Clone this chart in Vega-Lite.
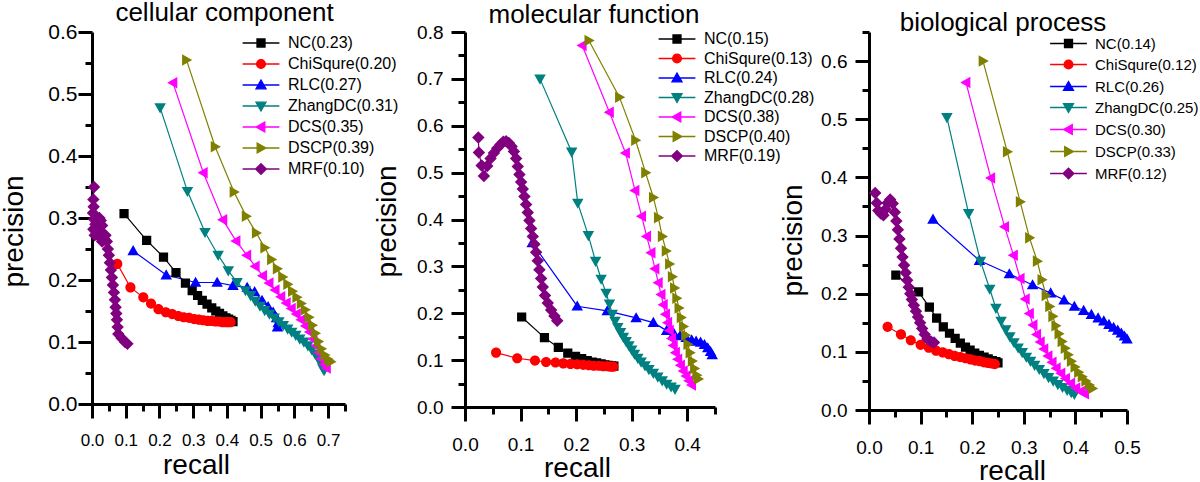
{
"$schema": "https://vega.github.io/schema/vega-lite/v6.json",
"padding": {"left": 0, "top": 0, "right": 0, "bottom": 0},
"config": {
  "font": "Liberation Sans",
  "view": {"stroke": null},
  "axis": {"labelColor": "black", "titleColor": "black", "grid": false, "labelFont": "Liberation Sans", "titleFont": "Liberation Sans", "titleFontWeight": "normal", "labelOverlap": false, "labelFlush": false, "titleFontSize": 28},
  "legend": {"padding": 0},
  "title": {"font": "Liberation Sans", "fontSize": 26, "fontWeight": "normal", "color": "black", "anchor": "middle", "baseline": "alphabetic"}
},
"datasets": {
"cc": [
{"m":"NC","i":0,"r":0.095,"p":0.307},{"m":"NC","i":1,"r":0.162,"p":0.264},{"m":"NC","i":2,"r":0.212,"p":0.237},{"m":"NC","i":3,"r":0.249,"p":0.212},{"m":"NC","i":4,"r":0.277,"p":0.195},{"m":"NC","i":5,"r":0.297,"p":0.183},{"m":"NC","i":6,"r":0.313,"p":0.175},{"m":"NC","i":7,"r":0.327,"p":0.167},{"m":"NC","i":8,"r":0.341,"p":0.161},{"m":"NC","i":9,"r":0.355,"p":0.155},{"m":"NC","i":10,"r":0.367,"p":0.150},{"m":"NC","i":11,"r":0.378,"p":0.146},{"m":"NC","i":12,"r":0.388,"p":0.142},{"m":"NC","i":13,"r":0.397,"p":0.139},{"m":"NC","i":14,"r":0.405,"p":0.137},{"m":"NC","i":15,"r":0.412,"p":0.135},{"m":"NC","i":16,"r":0.418,"p":0.133},
{"m":"ChiSqure","i":0,"r":0.075,"p":0.226},{"m":"ChiSqure","i":1,"r":0.114,"p":0.188},{"m":"ChiSqure","i":2,"r":0.152,"p":0.172},{"m":"ChiSqure","i":3,"r":0.175,"p":0.162},{"m":"ChiSqure","i":4,"r":0.197,"p":0.153},{"m":"ChiSqure","i":5,"r":0.219,"p":0.148},{"m":"ChiSqure","i":6,"r":0.238,"p":0.145},{"m":"ChiSqure","i":7,"r":0.256,"p":0.142},{"m":"ChiSqure","i":8,"r":0.272,"p":0.140},{"m":"ChiSqure","i":9,"r":0.288,"p":0.139},{"m":"ChiSqure","i":10,"r":0.303,"p":0.137},{"m":"ChiSqure","i":11,"r":0.317,"p":0.136},{"m":"ChiSqure","i":12,"r":0.330,"p":0.135},{"m":"ChiSqure","i":13,"r":0.343,"p":0.134},{"m":"ChiSqure","i":14,"r":0.355,"p":0.134},{"m":"ChiSqure","i":15,"r":0.366,"p":0.133},{"m":"ChiSqure","i":16,"r":0.377,"p":0.133},{"m":"ChiSqure","i":17,"r":0.387,"p":0.132},{"m":"ChiSqure","i":18,"r":0.396,"p":0.132},{"m":"ChiSqure","i":19,"r":0.404,"p":0.132},{"m":"ChiSqure","i":20,"r":0.411,"p":0.132},
{"m":"RLC","i":0,"r":0.122,"p":0.247},{"m":"RLC","i":1,"r":0.220,"p":0.208},{"m":"RLC","i":2,"r":0.307,"p":0.196},{"m":"RLC","i":3,"r":0.371,"p":0.196},{"m":"RLC","i":4,"r":0.418,"p":0.191},{"m":"RLC","i":5,"r":0.460,"p":0.188},{"m":"RLC","i":6,"r":0.482,"p":0.181},{"m":"RLC","i":7,"r":0.504,"p":0.167},{"m":"RLC","i":8,"r":0.522,"p":0.157},{"m":"RLC","i":9,"r":0.537,"p":0.148},{"m":"RLC","i":10,"r":0.547,"p":0.139},{"m":"RLC","i":11,"r":0.552,"p":0.131},{"m":"RLC","i":12,"r":0.550,"p":0.124},
{"m":"ZhangDC","i":0,"r":0.202,"p":0.478},{"m":"ZhangDC","i":1,"r":0.283,"p":0.343},{"m":"ZhangDC","i":2,"r":0.335,"p":0.277},{"m":"ZhangDC","i":3,"r":0.374,"p":0.240},{"m":"ZhangDC","i":4,"r":0.404,"p":0.215},{"m":"ZhangDC","i":5,"r":0.430,"p":0.196},{"m":"ZhangDC","i":6,"r":0.455,"p":0.183},{"m":"ZhangDC","i":7,"r":0.470,"p":0.175},{"m":"ZhangDC","i":8,"r":0.484,"p":0.166},{"m":"ZhangDC","i":9,"r":0.498,"p":0.158},{"m":"ZhangDC","i":10,"r":0.512,"p":0.151},{"m":"ZhangDC","i":11,"r":0.526,"p":0.145},{"m":"ZhangDC","i":12,"r":0.540,"p":0.139},{"m":"ZhangDC","i":13,"r":0.554,"p":0.133},{"m":"ZhangDC","i":14,"r":0.567,"p":0.127},{"m":"ZhangDC","i":15,"r":0.580,"p":0.121},{"m":"ZhangDC","i":16,"r":0.592,"p":0.116},{"m":"ZhangDC","i":17,"r":0.604,"p":0.111},{"m":"ZhangDC","i":18,"r":0.616,"p":0.105},{"m":"ZhangDC","i":19,"r":0.628,"p":0.100},{"m":"ZhangDC","i":20,"r":0.640,"p":0.094},{"m":"ZhangDC","i":21,"r":0.651,"p":0.088},{"m":"ZhangDC","i":22,"r":0.661,"p":0.081},{"m":"ZhangDC","i":23,"r":0.670,"p":0.074},{"m":"ZhangDC","i":24,"r":0.678,"p":0.066},{"m":"ZhangDC","i":25,"r":0.684,"p":0.058},{"m":"ZhangDC","i":26,"r":0.688,"p":0.054},
{"m":"DCS","i":0,"r":0.240,"p":0.518},{"m":"DCS","i":1,"r":0.330,"p":0.373},{"m":"DCS","i":2,"r":0.388,"p":0.297},{"m":"DCS","i":3,"r":0.427,"p":0.263},{"m":"DCS","i":4,"r":0.459,"p":0.240},{"m":"DCS","i":5,"r":0.484,"p":0.222},{"m":"DCS","i":6,"r":0.506,"p":0.207},{"m":"DCS","i":7,"r":0.525,"p":0.195},{"m":"DCS","i":8,"r":0.543,"p":0.184},{"m":"DCS","i":9,"r":0.560,"p":0.173},{"m":"DCS","i":10,"r":0.576,"p":0.163},{"m":"DCS","i":11,"r":0.591,"p":0.154},{"m":"DCS","i":12,"r":0.606,"p":0.145},{"m":"DCS","i":13,"r":0.620,"p":0.136},{"m":"DCS","i":14,"r":0.633,"p":0.126},{"m":"DCS","i":15,"r":0.645,"p":0.116},{"m":"DCS","i":16,"r":0.655,"p":0.105},{"m":"DCS","i":17,"r":0.664,"p":0.094},{"m":"DCS","i":18,"r":0.672,"p":0.083},{"m":"DCS","i":19,"r":0.680,"p":0.073},{"m":"DCS","i":20,"r":0.688,"p":0.064},{"m":"DCS","i":21,"r":0.695,"p":0.058},
{"m":"DSCP","i":0,"r":0.280,"p":0.555},{"m":"DSCP","i":1,"r":0.365,"p":0.415},{"m":"DSCP","i":2,"r":0.421,"p":0.342},{"m":"DSCP","i":3,"r":0.457,"p":0.303},{"m":"DSCP","i":4,"r":0.487,"p":0.276},{"m":"DSCP","i":5,"r":0.512,"p":0.252},{"m":"DSCP","i":6,"r":0.532,"p":0.233},{"m":"DSCP","i":7,"r":0.549,"p":0.218},{"m":"DSCP","i":8,"r":0.565,"p":0.205},{"m":"DSCP","i":9,"r":0.580,"p":0.193},{"m":"DSCP","i":10,"r":0.594,"p":0.182},{"m":"DSCP","i":11,"r":0.607,"p":0.172},{"m":"DSCP","i":12,"r":0.620,"p":0.162},{"m":"DSCP","i":13,"r":0.632,"p":0.152},{"m":"DSCP","i":14,"r":0.643,"p":0.140},{"m":"DSCP","i":15,"r":0.653,"p":0.127},{"m":"DSCP","i":16,"r":0.662,"p":0.114},{"m":"DSCP","i":17,"r":0.671,"p":0.101},{"m":"DSCP","i":18,"r":0.680,"p":0.089},{"m":"DSCP","i":19,"r":0.690,"p":0.079},{"m":"DSCP","i":20,"r":0.700,"p":0.072},{"m":"DSCP","i":21,"r":0.708,"p":0.068},
{"m":"MRF","i":0,"r":0.006,"p":0.350},{"m":"MRF","i":1,"r":0.004,"p":0.330},{"m":"MRF","i":2,"r":0.005,"p":0.318},{"m":"MRF","i":3,"r":0.003,"p":0.308},{"m":"MRF","i":4,"r":0.006,"p":0.298},{"m":"MRF","i":5,"r":0.010,"p":0.290},{"m":"MRF","i":6,"r":0.004,"p":0.282},{"m":"MRF","i":7,"r":0.008,"p":0.272},{"m":"MRF","i":8,"r":0.014,"p":0.276},{"m":"MRF","i":9,"r":0.018,"p":0.288},{"m":"MRF","i":10,"r":0.022,"p":0.300},{"m":"MRF","i":11,"r":0.026,"p":0.296},{"m":"MRF","i":12,"r":0.030,"p":0.288},{"m":"MRF","i":13,"r":0.028,"p":0.278},{"m":"MRF","i":14,"r":0.024,"p":0.268},{"m":"MRF","i":15,"r":0.030,"p":0.262},{"m":"MRF","i":16,"r":0.036,"p":0.266},{"m":"MRF","i":17,"r":0.040,"p":0.272},{"m":"MRF","i":18,"r":0.044,"p":0.262},{"m":"MRF","i":19,"r":0.047,"p":0.250},{"m":"MRF","i":20,"r":0.050,"p":0.240},{"m":"MRF","i":21,"r":0.053,"p":0.228},{"m":"MRF","i":22,"r":0.056,"p":0.216},{"m":"MRF","i":23,"r":0.059,"p":0.204},{"m":"MRF","i":24,"r":0.062,"p":0.192},{"m":"MRF","i":25,"r":0.065,"p":0.180},{"m":"MRF","i":26,"r":0.068,"p":0.168},{"m":"MRF","i":27,"r":0.070,"p":0.156},{"m":"MRF","i":28,"r":0.072,"p":0.146},{"m":"MRF","i":29,"r":0.074,"p":0.136},{"m":"MRF","i":30,"r":0.076,"p":0.124},{"m":"MRF","i":31,"r":0.078,"p":0.113},{"m":"MRF","i":32,"r":0.088,"p":0.106},{"m":"MRF","i":33,"r":0.098,"p":0.100},{"m":"MRF","i":34,"r":0.105,"p":0.097}
],
"mf": [
{"m":"NC","i":0,"r":0.102,"p":0.192},{"m":"NC","i":1,"r":0.143,"p":0.148},{"m":"NC","i":2,"r":0.168,"p":0.127},{"m":"NC","i":3,"r":0.185,"p":0.115},{"m":"NC","i":4,"r":0.199,"p":0.108},{"m":"NC","i":5,"r":0.210,"p":0.103},{"m":"NC","i":6,"r":0.220,"p":0.099},{"m":"NC","i":7,"r":0.229,"p":0.096},{"m":"NC","i":8,"r":0.237,"p":0.094},{"m":"NC","i":9,"r":0.245,"p":0.092},{"m":"NC","i":10,"r":0.252,"p":0.090},{"m":"NC","i":11,"r":0.258,"p":0.089},{"m":"NC","i":12,"r":0.264,"p":0.088},{"m":"NC","i":13,"r":0.268,"p":0.087},
{"m":"ChiSqure","i":0,"r":0.056,"p":0.116},{"m":"ChiSqure","i":1,"r":0.094,"p":0.104},{"m":"ChiSqure","i":2,"r":0.126,"p":0.099},{"m":"ChiSqure","i":3,"r":0.146,"p":0.096},{"m":"ChiSqure","i":4,"r":0.163,"p":0.095},{"m":"ChiSqure","i":5,"r":0.177,"p":0.093},{"m":"ChiSqure","i":6,"r":0.190,"p":0.092},{"m":"ChiSqure","i":7,"r":0.202,"p":0.091},{"m":"ChiSqure","i":8,"r":0.213,"p":0.090},{"m":"ChiSqure","i":9,"r":0.223,"p":0.089},{"m":"ChiSqure","i":10,"r":0.232,"p":0.088},{"m":"ChiSqure","i":11,"r":0.241,"p":0.088},{"m":"ChiSqure","i":12,"r":0.249,"p":0.087},{"m":"ChiSqure","i":13,"r":0.256,"p":0.087},{"m":"ChiSqure","i":14,"r":0.262,"p":0.086},{"m":"ChiSqure","i":15,"r":0.267,"p":0.086},
{"m":"RLC","i":0,"r":0.121,"p":0.350},{"m":"RLC","i":1,"r":0.202,"p":0.215},{"m":"RLC","i":2,"r":0.256,"p":0.205},{"m":"RLC","i":3,"r":0.308,"p":0.190},{"m":"RLC","i":4,"r":0.339,"p":0.180},{"m":"RLC","i":5,"r":0.363,"p":0.163},{"m":"RLC","i":6,"r":0.376,"p":0.157},{"m":"RLC","i":7,"r":0.387,"p":0.152},{"m":"RLC","i":8,"r":0.398,"p":0.148},{"m":"RLC","i":9,"r":0.408,"p":0.143},{"m":"RLC","i":10,"r":0.416,"p":0.140},{"m":"RLC","i":11,"r":0.424,"p":0.138},{"m":"RLC","i":12,"r":0.431,"p":0.133},{"m":"RLC","i":13,"r":0.437,"p":0.126},{"m":"RLC","i":14,"r":0.442,"p":0.118},{"m":"RLC","i":15,"r":0.445,"p":0.111},
{"m":"ZhangDC","i":0,"r":0.135,"p":0.700},{"m":"ZhangDC","i":1,"r":0.192,"p":0.544},{"m":"ZhangDC","i":2,"r":0.203,"p":0.435},{"m":"ZhangDC","i":3,"r":0.222,"p":0.366},{"m":"ZhangDC","i":4,"r":0.235,"p":0.311},{"m":"ZhangDC","i":5,"r":0.245,"p":0.273},{"m":"ZhangDC","i":6,"r":0.254,"p":0.243},{"m":"ZhangDC","i":7,"r":0.260,"p":0.220},{"m":"ZhangDC","i":8,"r":0.265,"p":0.198},{"m":"ZhangDC","i":9,"r":0.270,"p":0.183},{"m":"ZhangDC","i":10,"r":0.275,"p":0.170},{"m":"ZhangDC","i":11,"r":0.280,"p":0.159},{"m":"ZhangDC","i":12,"r":0.285,"p":0.149},{"m":"ZhangDC","i":13,"r":0.290,"p":0.140},{"m":"ZhangDC","i":14,"r":0.295,"p":0.131},{"m":"ZhangDC","i":15,"r":0.300,"p":0.122},{"m":"ZhangDC","i":16,"r":0.305,"p":0.113},{"m":"ZhangDC","i":17,"r":0.311,"p":0.104},{"m":"ZhangDC","i":18,"r":0.317,"p":0.096},{"m":"ZhangDC","i":19,"r":0.324,"p":0.088},{"m":"ZhangDC","i":20,"r":0.331,"p":0.080},{"m":"ZhangDC","i":21,"r":0.339,"p":0.072},{"m":"ZhangDC","i":22,"r":0.347,"p":0.064},{"m":"ZhangDC","i":23,"r":0.355,"p":0.056},{"m":"ZhangDC","i":24,"r":0.363,"p":0.049},{"m":"ZhangDC","i":25,"r":0.371,"p":0.043},{"m":"ZhangDC","i":26,"r":0.378,"p":0.038},
{"m":"DCS","i":0,"r":0.211,"p":0.771},{"m":"DCS","i":1,"r":0.260,"p":0.629},{"m":"DCS","i":2,"r":0.289,"p":0.542},{"m":"DCS","i":3,"r":0.306,"p":0.462},{"m":"DCS","i":4,"r":0.318,"p":0.407},{"m":"DCS","i":5,"r":0.327,"p":0.364},{"m":"DCS","i":6,"r":0.335,"p":0.329},{"m":"DCS","i":7,"r":0.342,"p":0.295},{"m":"DCS","i":8,"r":0.348,"p":0.265},{"m":"DCS","i":9,"r":0.353,"p":0.240},{"m":"DCS","i":10,"r":0.357,"p":0.218},{"m":"DCS","i":11,"r":0.361,"p":0.198},{"m":"DCS","i":12,"r":0.365,"p":0.180},{"m":"DCS","i":13,"r":0.368,"p":0.163},{"m":"DCS","i":14,"r":0.372,"p":0.146},{"m":"DCS","i":15,"r":0.375,"p":0.131},{"m":"DCS","i":16,"r":0.379,"p":0.116},{"m":"DCS","i":17,"r":0.383,"p":0.102},{"m":"DCS","i":18,"r":0.388,"p":0.089},{"m":"DCS","i":19,"r":0.393,"p":0.077},{"m":"DCS","i":20,"r":0.398,"p":0.066},{"m":"DCS","i":21,"r":0.403,"p":0.056},{"m":"DCS","i":22,"r":0.408,"p":0.047},
{"m":"DSCP","i":0,"r":0.223,"p":0.782},{"m":"DSCP","i":1,"r":0.278,"p":0.661},{"m":"DSCP","i":2,"r":0.307,"p":0.569},{"m":"DSCP","i":3,"r":0.325,"p":0.500},{"m":"DSCP","i":4,"r":0.339,"p":0.447},{"m":"DSCP","i":5,"r":0.348,"p":0.404},{"m":"DSCP","i":6,"r":0.355,"p":0.364},{"m":"DSCP","i":7,"r":0.362,"p":0.333},{"m":"DSCP","i":8,"r":0.368,"p":0.305},{"m":"DSCP","i":9,"r":0.373,"p":0.278},{"m":"DSCP","i":10,"r":0.377,"p":0.254},{"m":"DSCP","i":11,"r":0.381,"p":0.232},{"m":"DSCP","i":12,"r":0.385,"p":0.211},{"m":"DSCP","i":13,"r":0.389,"p":0.191},{"m":"DSCP","i":14,"r":0.393,"p":0.172},{"m":"DSCP","i":15,"r":0.397,"p":0.153},{"m":"DSCP","i":16,"r":0.401,"p":0.134},{"m":"DSCP","i":17,"r":0.405,"p":0.116},{"m":"DSCP","i":18,"r":0.409,"p":0.098},{"m":"DSCP","i":19,"r":0.413,"p":0.082},{"m":"DSCP","i":20,"r":0.417,"p":0.068},{"m":"DSCP","i":21,"r":0.420,"p":0.060},
{"m":"MRF","i":0,"r":0.024,"p":0.575},{"m":"MRF","i":1,"r":0.025,"p":0.543},{"m":"MRF","i":2,"r":0.030,"p":0.515},{"m":"MRF","i":3,"r":0.034,"p":0.493},{"m":"MRF","i":4,"r":0.040,"p":0.514},{"m":"MRF","i":5,"r":0.046,"p":0.530},{"m":"MRF","i":6,"r":0.052,"p":0.542},{"m":"MRF","i":7,"r":0.058,"p":0.552},{"m":"MRF","i":8,"r":0.064,"p":0.560},{"m":"MRF","i":9,"r":0.069,"p":0.566},{"m":"MRF","i":10,"r":0.074,"p":0.567},{"m":"MRF","i":11,"r":0.079,"p":0.563},{"m":"MRF","i":12,"r":0.084,"p":0.556},{"m":"MRF","i":13,"r":0.088,"p":0.545},{"m":"MRF","i":14,"r":0.092,"p":0.530},{"m":"MRF","i":15,"r":0.095,"p":0.513},{"m":"MRF","i":16,"r":0.098,"p":0.496},{"m":"MRF","i":17,"r":0.101,"p":0.480},{"m":"MRF","i":18,"r":0.104,"p":0.465},{"m":"MRF","i":19,"r":0.107,"p":0.449},{"m":"MRF","i":20,"r":0.110,"p":0.432},{"m":"MRF","i":21,"r":0.113,"p":0.415},{"m":"MRF","i":22,"r":0.116,"p":0.398},{"m":"MRF","i":23,"r":0.119,"p":0.381},{"m":"MRF","i":24,"r":0.122,"p":0.364},{"m":"MRF","i":25,"r":0.125,"p":0.347},{"m":"MRF","i":26,"r":0.128,"p":0.330},{"m":"MRF","i":27,"r":0.131,"p":0.312},{"m":"MRF","i":28,"r":0.134,"p":0.293},{"m":"MRF","i":29,"r":0.137,"p":0.274},{"m":"MRF","i":30,"r":0.140,"p":0.256},{"m":"MRF","i":31,"r":0.144,"p":0.238},{"m":"MRF","i":32,"r":0.149,"p":0.222},{"m":"MRF","i":33,"r":0.155,"p":0.207},{"m":"MRF","i":34,"r":0.161,"p":0.194},{"m":"MRF","i":35,"r":0.166,"p":0.184}
],
"bp": [
{"m":"NC","i":0,"r":0.052,"p":0.232},{"m":"NC","i":1,"r":0.096,"p":0.203},{"m":"NC","i":2,"r":0.117,"p":0.177},{"m":"NC","i":3,"r":0.131,"p":0.158},{"m":"NC","i":4,"r":0.144,"p":0.143},{"m":"NC","i":5,"r":0.156,"p":0.132},{"m":"NC","i":6,"r":0.167,"p":0.123},{"m":"NC","i":7,"r":0.177,"p":0.115},{"m":"NC","i":8,"r":0.187,"p":0.108},{"m":"NC","i":9,"r":0.196,"p":0.103},{"m":"NC","i":10,"r":0.205,"p":0.098},{"m":"NC","i":11,"r":0.214,"p":0.094},{"m":"NC","i":12,"r":0.223,"p":0.091},{"m":"NC","i":13,"r":0.231,"p":0.088},{"m":"NC","i":14,"r":0.239,"p":0.085},{"m":"NC","i":15,"r":0.246,"p":0.083},{"m":"NC","i":16,"r":0.250,"p":0.081},
{"m":"ChiSqure","i":0,"r":0.036,"p":0.143},{"m":"ChiSqure","i":1,"r":0.062,"p":0.130},{"m":"ChiSqure","i":2,"r":0.081,"p":0.120},{"m":"ChiSqure","i":3,"r":0.100,"p":0.112},{"m":"ChiSqure","i":4,"r":0.116,"p":0.107},{"m":"ChiSqure","i":5,"r":0.130,"p":0.102},{"m":"ChiSqure","i":6,"r":0.143,"p":0.099},{"m":"ChiSqure","i":7,"r":0.155,"p":0.096},{"m":"ChiSqure","i":8,"r":0.166,"p":0.093},{"m":"ChiSqure","i":9,"r":0.177,"p":0.091},{"m":"ChiSqure","i":10,"r":0.187,"p":0.089},{"m":"ChiSqure","i":11,"r":0.197,"p":0.087},{"m":"ChiSqure","i":12,"r":0.206,"p":0.085},{"m":"ChiSqure","i":13,"r":0.215,"p":0.084},{"m":"ChiSqure","i":14,"r":0.223,"p":0.082},{"m":"ChiSqure","i":15,"r":0.231,"p":0.081},{"m":"ChiSqure","i":16,"r":0.238,"p":0.080},{"m":"ChiSqure","i":17,"r":0.244,"p":0.079},
{"m":"RLC","i":0,"r":0.124,"p":0.328},{"m":"RLC","i":1,"r":0.214,"p":0.257},{"m":"RLC","i":2,"r":0.272,"p":0.234},{"m":"RLC","i":3,"r":0.317,"p":0.215},{"m":"RLC","i":4,"r":0.352,"p":0.201},{"m":"RLC","i":5,"r":0.378,"p":0.189},{"m":"RLC","i":6,"r":0.398,"p":0.178},{"m":"RLC","i":7,"r":0.416,"p":0.171},{"m":"RLC","i":8,"r":0.431,"p":0.164},{"m":"RLC","i":9,"r":0.444,"p":0.158},{"m":"RLC","i":10,"r":0.455,"p":0.153},{"m":"RLC","i":11,"r":0.465,"p":0.147},{"m":"RLC","i":12,"r":0.474,"p":0.142},{"m":"RLC","i":13,"r":0.482,"p":0.137},{"m":"RLC","i":14,"r":0.489,"p":0.132},{"m":"RLC","i":15,"r":0.495,"p":0.127},{"m":"RLC","i":16,"r":0.500,"p":0.122},
{"m":"ZhangDC","i":0,"r":0.151,"p":0.503},{"m":"ZhangDC","i":1,"r":0.193,"p":0.338},{"m":"ZhangDC","i":2,"r":0.216,"p":0.256},{"m":"ZhangDC","i":3,"r":0.234,"p":0.208},{"m":"ZhangDC","i":4,"r":0.246,"p":0.175},{"m":"ZhangDC","i":5,"r":0.256,"p":0.153},{"m":"ZhangDC","i":6,"r":0.265,"p":0.138},{"m":"ZhangDC","i":7,"r":0.273,"p":0.126},{"m":"ZhangDC","i":8,"r":0.281,"p":0.116},{"m":"ZhangDC","i":9,"r":0.289,"p":0.107},{"m":"ZhangDC","i":10,"r":0.297,"p":0.099},{"m":"ZhangDC","i":11,"r":0.305,"p":0.091},{"m":"ZhangDC","i":12,"r":0.313,"p":0.084},{"m":"ZhangDC","i":13,"r":0.321,"p":0.077},{"m":"ZhangDC","i":14,"r":0.330,"p":0.070},{"m":"ZhangDC","i":15,"r":0.339,"p":0.063},{"m":"ZhangDC","i":16,"r":0.348,"p":0.056},{"m":"ZhangDC","i":17,"r":0.357,"p":0.050},{"m":"ZhangDC","i":18,"r":0.366,"p":0.044},{"m":"ZhangDC","i":19,"r":0.375,"p":0.039},{"m":"ZhangDC","i":20,"r":0.384,"p":0.034},{"m":"ZhangDC","i":21,"r":0.392,"p":0.030},{"m":"ZhangDC","i":22,"r":0.398,"p":0.027},
{"m":"DCS","i":0,"r":0.188,"p":0.563},{"m":"DCS","i":1,"r":0.236,"p":0.399},{"m":"DCS","i":2,"r":0.263,"p":0.315},{"m":"DCS","i":3,"r":0.280,"p":0.266},{"m":"DCS","i":4,"r":0.293,"p":0.226},{"m":"DCS","i":5,"r":0.303,"p":0.191},{"m":"DCS","i":6,"r":0.311,"p":0.166},{"m":"DCS","i":7,"r":0.318,"p":0.146},{"m":"DCS","i":8,"r":0.325,"p":0.130},{"m":"DCS","i":9,"r":0.332,"p":0.117},{"m":"DCS","i":10,"r":0.339,"p":0.105},{"m":"DCS","i":11,"r":0.347,"p":0.093},{"m":"DCS","i":12,"r":0.355,"p":0.082},{"m":"DCS","i":13,"r":0.363,"p":0.072},{"m":"DCS","i":14,"r":0.372,"p":0.063},{"m":"DCS","i":15,"r":0.381,"p":0.054},{"m":"DCS","i":16,"r":0.391,"p":0.046},{"m":"DCS","i":17,"r":0.401,"p":0.038},{"m":"DCS","i":18,"r":0.410,"p":0.032},{"m":"DCS","i":19,"r":0.418,"p":0.028},
{"m":"DSCP","i":0,"r":0.221,"p":0.600},{"m":"DSCP","i":1,"r":0.268,"p":0.444},{"m":"DSCP","i":2,"r":0.293,"p":0.358},{"m":"DSCP","i":3,"r":0.311,"p":0.296},{"m":"DSCP","i":4,"r":0.326,"p":0.256},{"m":"DSCP","i":5,"r":0.335,"p":0.224},{"m":"DSCP","i":6,"r":0.343,"p":0.197},{"m":"DSCP","i":7,"r":0.350,"p":0.178},{"m":"DSCP","i":8,"r":0.356,"p":0.161},{"m":"DSCP","i":9,"r":0.362,"p":0.145},{"m":"DSCP","i":10,"r":0.368,"p":0.131},{"m":"DSCP","i":11,"r":0.374,"p":0.118},{"m":"DSCP","i":12,"r":0.380,"p":0.106},{"m":"DSCP","i":13,"r":0.386,"p":0.095},{"m":"DSCP","i":14,"r":0.392,"p":0.084},{"m":"DSCP","i":15,"r":0.399,"p":0.074},{"m":"DSCP","i":16,"r":0.406,"p":0.065},{"m":"DSCP","i":17,"r":0.413,"p":0.057},{"m":"DSCP","i":18,"r":0.420,"p":0.050},{"m":"DSCP","i":19,"r":0.427,"p":0.043},{"m":"DSCP","i":20,"r":0.433,"p":0.037},
{"m":"MRF","i":0,"r":0.012,"p":0.373},{"m":"MRF","i":1,"r":0.015,"p":0.356},{"m":"MRF","i":2,"r":0.018,"p":0.343},{"m":"MRF","i":3,"r":0.023,"p":0.338},{"m":"MRF","i":4,"r":0.028,"p":0.335},{"m":"MRF","i":5,"r":0.032,"p":0.345},{"m":"MRF","i":6,"r":0.036,"p":0.356},{"m":"MRF","i":7,"r":0.041,"p":0.362},{"m":"MRF","i":8,"r":0.046,"p":0.355},{"m":"MRF","i":9,"r":0.050,"p":0.340},{"m":"MRF","i":10,"r":0.053,"p":0.325},{"m":"MRF","i":11,"r":0.056,"p":0.310},{"m":"MRF","i":12,"r":0.059,"p":0.294},{"m":"MRF","i":13,"r":0.062,"p":0.278},{"m":"MRF","i":14,"r":0.065,"p":0.263},{"m":"MRF","i":15,"r":0.068,"p":0.249},{"m":"MRF","i":16,"r":0.071,"p":0.236},{"m":"MRF","i":17,"r":0.074,"p":0.223},{"m":"MRF","i":18,"r":0.077,"p":0.211},{"m":"MRF","i":19,"r":0.080,"p":0.200},{"m":"MRF","i":20,"r":0.083,"p":0.190},{"m":"MRF","i":21,"r":0.087,"p":0.180},{"m":"MRF","i":22,"r":0.091,"p":0.170},{"m":"MRF","i":23,"r":0.095,"p":0.160},{"m":"MRF","i":24,"r":0.099,"p":0.150},{"m":"MRF","i":25,"r":0.103,"p":0.140},{"m":"MRF","i":26,"r":0.108,"p":0.130},{"m":"MRF","i":27,"r":0.113,"p":0.122},{"m":"MRF","i":28,"r":0.120,"p":0.118},{"m":"MRF","i":29,"r":0.126,"p":0.116}
]
},
"hconcat": [
{
"width": 219, "height": 372,
"data": {"name": "cc"},
"title": {"text": "cellular component", "offset": -5, "dx": 23},
"encoding": {
  "color": {"field": "m", "type": "nominal", "scale": {"domain": ["NC","ChiSqure","RLC","ZhangDC","DCS","DSCP","MRF"], "range": ["#000000","#ff0000","#0000ff","#008080","#ff00ff","#808000","#800080"]},
    "legend": {"orient": "none", "legendX": 161, "legendY": 3, "title": null, "labelFontSize": 16, "labelColor": "black", "labelFont": "Liberation Sans", "symbolSize": 64, "symbolStrokeWidth": 1.3, "labelOffset": 19, "rowPadding": 5, "padding": 0,
      "labelExpr": "{NC:'NC(0.23)',ChiSqure:'ChiSqure(0.20)',RLC:'RLC(0.27)',ZhangDC:'ZhangDC(0.31)',DCS:'DCS(0.35)',DSCP:'DSCP(0.39)',MRF:'MRF(0.10)'}[datum.value]"}}
},
"layer": [
  {"mark": {"type": "line", "strokeWidth": 1.2},
   "encoding": {
    "x": {"field": "r", "type": "quantitative", "scale": {"domain": [0, 0.75], "nice": false, "zero": false, "range": [0, 253]},
      "axis": {"orient": "bottom", "title": "recall", "values": [0,0.1,0.2,0.3,0.4,0.5,0.6,0.7], "format": ".1f", "domain": true, "domainColor": "black", "domainWidth": 3, "ticks": true, "tickColor": "black", "tickWidth": 3, "tickSize": 14, "labelFontSize": 17, "labelPadding": 14, "titlePadding": 2, "minExtent": 45, "maxExtent": 45, "titleX": 104}},
    "y": {"field": "p", "type": "quantitative", "scale": {"domain": [0, 0.6], "nice": false, "zero": false},
      "axis": {"orient": "left", "title": "precision", "values": [0,0.1,0.2,0.3,0.4,0.5,0.6], "format": ".1f", "domain": true, "domainColor": "black", "domainWidth": 3, "ticks": true, "tickColor": "black", "tickWidth": 3, "tickSize": 14, "labelFontSize": 21, "labelPadding": 1, "titlePadding": 12, "minExtent": 52, "maxExtent": 52, "titleY": 199}},
    "order": {"field": "i", "type": "quantitative"}}},
  {"mark": {"type": "point", "filled": true, "size": 85, "opacity": 1},
   "encoding": {
    "x": {"field": "r", "type": "quantitative", "scale": {"domain": [0, 0.75], "nice": false, "zero": false, "range": [0, 253]},
      "axis": {"orient": "bottom", "title": null, "values": [0.05,0.15,0.25,0.35,0.45,0.55,0.65,0.75], "labels": false, "domain": false, "ticks": true, "tickColor": "black", "tickWidth": 3, "tickSize": 7, "minExtent": 0, "maxExtent": 0}},
    "y": {"field": "p", "type": "quantitative", "scale": {"domain": [0, 0.6], "nice": false, "zero": false},
      "axis": {"orient": "left", "title": null, "values": [0.05,0.15,0.25,0.35,0.45,0.55], "labels": false, "domain": false, "ticks": true, "tickColor": "black", "tickWidth": 3, "tickSize": 7, "minExtent": 0, "maxExtent": 0}},
    "shape": {"field": "m", "type": "nominal", "scale": {"domain": ["NC","ChiSqure","RLC","ZhangDC","DCS","DSCP","MRF"], "range": ["M-4.6,0H4.6M-1,-1H1V1H-1Z","M-4.6,0H4.6M1.1,0A1.1,1.1,0,1,1,-1.1,0A1.1,1.1,0,1,1,1.1,0Z","M-4.6,0H4.6M0,-1.25L1.25,0.95H-1.25Z","M-4.6,0H4.6M0,1.25L1.25,-0.95H-1.25Z","M-4.6,0H4.6M-1.25,0L0.95,-1.25V1.25Z","M-4.6,0H4.6M1.25,0L-0.95,-1.25V1.25Z","M-4.6,0H4.6M0,-1.35L1.35,0L0,1.35L-1.35,0Z"]}}}}
],
"resolve": {"axis": {"x": "independent", "y": "independent"}}
},
{
"width": 250, "height": 375,
"data": {"name": "mf"},
"title": {"text": "molecular function", "offset": -5, "dx": 4},
"encoding": {
  "color": {"field": "m", "type": "nominal", "scale": {"domain": ["NC","ChiSqure","RLC","ZhangDC","DCS","DSCP","MRF"], "range": ["#000000","#ff0000","#0000ff","#008080","#ff00ff","#808000","#800080"]},
    "legend": {"orient": "none", "legendX": 204, "legendY": -1, "title": null, "labelFontSize": 16, "labelColor": "black", "labelFont": "Liberation Sans", "symbolSize": 64, "symbolStrokeWidth": 1.3, "labelOffset": 19, "rowPadding": 3.5, "padding": 0,
      "labelExpr": "{NC:'NC(0.15)',ChiSqure:'ChiSqure(0.13)',RLC:'RLC(0.24)',ZhangDC:'ZhangDC(0.28)',DCS:'DCS(0.38)',DSCP:'DSCP(0.40)',MRF:'MRF(0.19)'}[datum.value]"}}
},
"layer": [
  {"mark": {"type": "line", "strokeWidth": 1.2},
   "encoding": {
    "x": {"field": "r", "type": "quantitative", "scale": {"domain": [0, 0.45], "nice": false, "zero": false},
      "axis": {"orient": "bottom", "title": "recall", "values": [0,0.1,0.2,0.3,0.4], "format": ".1f", "domain": true, "domainColor": "black", "domainWidth": 3, "ticks": true, "tickColor": "black", "tickWidth": 3, "tickSize": 14, "labelFontSize": 19, "labelPadding": 14, "titlePadding": 2, "minExtent": 45, "maxExtent": 45, "titleX": 112}},
    "y": {"field": "p", "type": "quantitative", "scale": {"domain": [0, 0.8], "nice": false, "zero": false},
      "axis": {"orient": "left", "title": "precision", "values": [0,0.1,0.2,0.3,0.4,0.5,0.6,0.7,0.8], "format": ".1f", "domain": true, "domainColor": "black", "domainWidth": 3, "ticks": true, "tickColor": "black", "tickWidth": 3, "tickSize": 14, "labelFontSize": 19, "labelPadding": 8, "titlePadding": 12, "minExtent": 52, "maxExtent": 52, "titleY": 189}},
    "order": {"field": "i", "type": "quantitative"}}},
  {"mark": {"type": "point", "filled": true, "size": 85, "opacity": 1},
   "encoding": {
    "x": {"field": "r", "type": "quantitative", "scale": {"domain": [0, 0.45], "nice": false, "zero": false},
      "axis": {"orient": "bottom", "title": null, "values": [0.05,0.15,0.25,0.35,0.45], "labels": false, "domain": false, "ticks": true, "tickColor": "black", "tickWidth": 3, "tickSize": 7, "minExtent": 0, "maxExtent": 0}},
    "y": {"field": "p", "type": "quantitative", "scale": {"domain": [0, 0.8], "nice": false, "zero": false},
      "axis": {"orient": "left", "title": null, "values": [0.05,0.15,0.25,0.35,0.45,0.55,0.65,0.75], "labels": false, "domain": false, "ticks": true, "tickColor": "black", "tickWidth": 3, "tickSize": 7, "minExtent": 0, "maxExtent": 0}},
    "shape": {"field": "m", "type": "nominal", "scale": {"domain": ["NC","ChiSqure","RLC","ZhangDC","DCS","DSCP","MRF"], "range": ["M-4.6,0H4.6M-1,-1H1V1H-1Z","M-4.6,0H4.6M1.1,0A1.1,1.1,0,1,1,-1.1,0A1.1,1.1,0,1,1,1.1,0Z","M-4.6,0H4.6M0,-1.25L1.25,0.95H-1.25Z","M-4.6,0H4.6M0,1.25L1.25,-0.95H-1.25Z","M-4.6,0H4.6M-1.25,0L0.95,-1.25V1.25Z","M-4.6,0H4.6M1.25,0L-0.95,-1.25V1.25Z","M-4.6,0H4.6M0,-1.35L1.35,0L0,1.35L-1.35,0Z"]}}}}
],
"resolve": {"axis": {"x": "independent", "y": "independent"}}
},
{
"width": 258, "height": 378,
"data": {"name": "bp"},
"title": {"text": "biological process", "offset": -5, "dx": 5},
"encoding": {
  "color": {"field": "m", "type": "nominal", "scale": {"domain": ["NC","ChiSqure","RLC","ZhangDC","DCS","DSCP","MRF"], "range": ["#000000","#ff0000","#0000ff","#008080","#ff00ff","#808000","#800080"]},
    "legend": {"orient": "none", "legendX": 192, "legendY": 4, "title": null, "labelFontSize": 15, "labelColor": "black", "labelFont": "Liberation Sans", "symbolSize": 64, "symbolStrokeWidth": 1.3, "labelOffset": 19, "rowPadding": 5, "padding": 0,
      "labelExpr": "{NC:'NC(0.14)',ChiSqure:'ChiSqure(0.12)',RLC:'RLC(0.26)',ZhangDC:'ZhangDC(0.25)',DCS:'DCS(0.30)',DSCP:'DSCP(0.33)',MRF:'MRF(0.12)'}[datum.value]"}}
},
"layer": [
  {"mark": {"type": "line", "strokeWidth": 1.2},
   "encoding": {
    "x": {"field": "r", "type": "quantitative", "scale": {"domain": [0, 0.5], "nice": false, "zero": false},
      "axis": {"orient": "bottom", "title": "recall", "values": [0,0.1,0.2,0.3,0.4,0.5], "format": ".1f", "domain": true, "domainColor": "black", "domainWidth": 3, "ticks": true, "tickColor": "black", "tickWidth": 3, "tickSize": 14, "labelFontSize": 19, "labelPadding": 14, "titlePadding": 2, "minExtent": 45, "maxExtent": 45, "titleX": 143}},
    "y": {"field": "p", "type": "quantitative", "scale": {"domain": [0, 0.65], "nice": false, "zero": false},
      "axis": {"orient": "left", "title": "precision", "values": [0,0.1,0.2,0.3,0.4,0.5,0.6], "format": ".1f", "domain": true, "domainColor": "black", "domainWidth": 3, "ticks": true, "tickColor": "black", "tickWidth": 3, "tickSize": 14, "labelFontSize": 19, "labelPadding": 8, "titlePadding": 10, "minExtent": 52, "maxExtent": 52, "titleY": 208}},
    "order": {"field": "i", "type": "quantitative"}}},
  {"mark": {"type": "point", "filled": true, "size": 85, "opacity": 1},
   "encoding": {
    "x": {"field": "r", "type": "quantitative", "scale": {"domain": [0, 0.5], "nice": false, "zero": false},
      "axis": {"orient": "bottom", "title": null, "values": [0.05,0.15,0.25,0.35,0.45], "labels": false, "domain": false, "ticks": true, "tickColor": "black", "tickWidth": 3, "tickSize": 7, "minExtent": 0, "maxExtent": 0}},
    "y": {"field": "p", "type": "quantitative", "scale": {"domain": [0, 0.65], "nice": false, "zero": false},
      "axis": {"orient": "left", "title": null, "values": [0.05,0.15,0.25,0.35,0.45,0.55,0.65], "labels": false, "domain": false, "ticks": true, "tickColor": "black", "tickWidth": 3, "tickSize": 7, "minExtent": 0, "maxExtent": 0}},
    "shape": {"field": "m", "type": "nominal", "scale": {"domain": ["NC","ChiSqure","RLC","ZhangDC","DCS","DSCP","MRF"], "range": ["M-4.6,0H4.6M-1,-1H1V1H-1Z","M-4.6,0H4.6M1.1,0A1.1,1.1,0,1,1,-1.1,0A1.1,1.1,0,1,1,1.1,0Z","M-4.6,0H4.6M0,-1.25L1.25,0.95H-1.25Z","M-4.6,0H4.6M0,1.25L1.25,-0.95H-1.25Z","M-4.6,0H4.6M-1.25,0L0.95,-1.25V1.25Z","M-4.6,0H4.6M1.25,0L-0.95,-1.25V1.25Z","M-4.6,0H4.6M0,-1.35L1.35,0L0,1.35L-1.35,0Z"]}}}}
],
"resolve": {"axis": {"x": "independent", "y": "independent"}}
}
],
"spacing": 154, "bounds": "flush",
"resolve": {"scale": {"color": "independent", "shape": "independent"}, "legend": {"color": "independent", "shape": "independent"}}
}
